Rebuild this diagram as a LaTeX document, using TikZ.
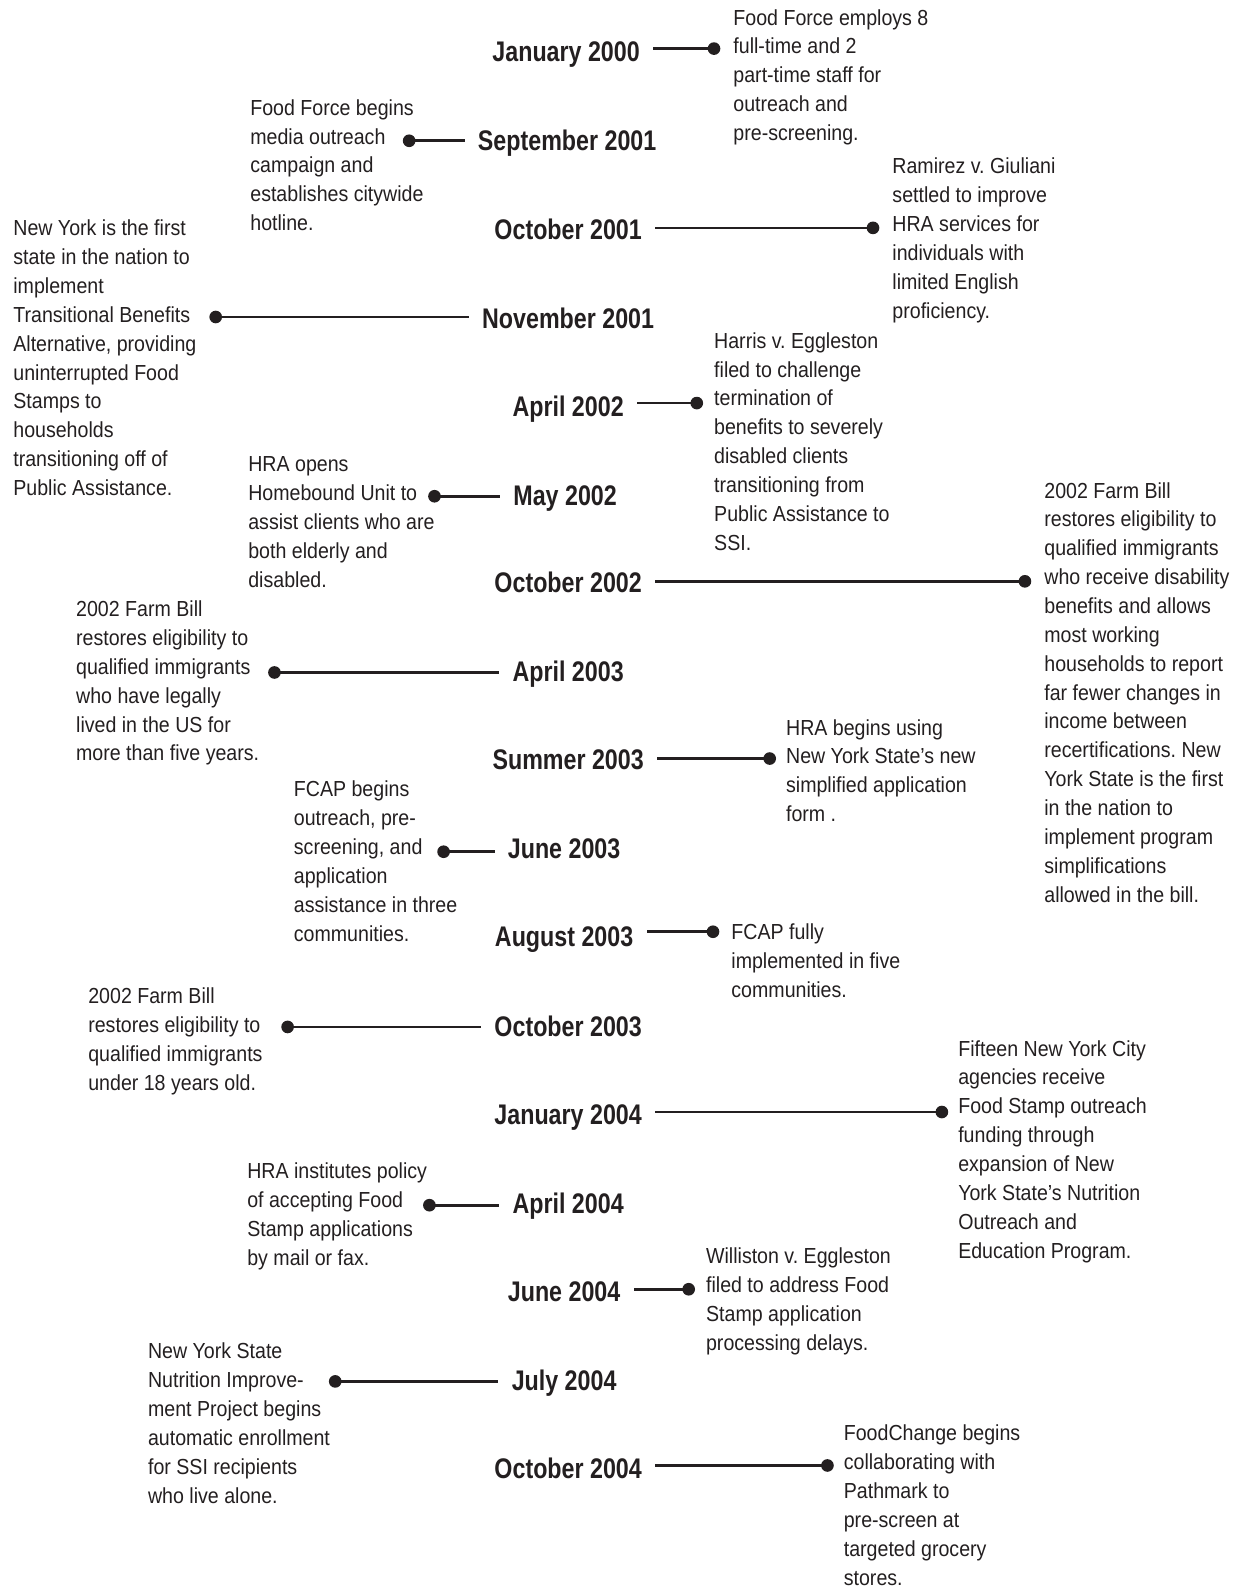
\documentclass[tikz,border=0pt]{standalone}
\usepackage{fontspec}
\setmainfont{Liberation Sans}[FakeStretch=0.9]
\newfontfamily\datefont{Liberation Sans}[FakeStretch=0.82]
\definecolor{ink}{HTML}{231F20}
\frenchspacing
\begin{document}
\begin{tikzpicture}[x=1pt,y=-1pt,
  datelbl/.style={font=\datefont\bfseries\fontsize{28}{32}\selectfont, anchor=base, inner sep=0pt, text=ink},
  evtxt/.style={font=\fontsize{21.5}{28.5}\selectfont, align=left, anchor=north west, inner sep=0pt, text=ink},
  evdot/.style={circle, fill=ink, minimum size=12.5pt, inner sep=0pt},
  conn/.style={draw=ink, line width=2.6pt, shorten >=13pt}]
\path[use as bounding box] (0,0) rectangle (1232,1568);

% dates
\node[datelbl] (d1) at (559,61) {January 2000};
\node[datelbl] (d2) at (560,149) {September 2001};
\node[datelbl] (d3) at (561,236) {October 2001};
\node[datelbl] (d4) at (561,324) {November 2001};
\node[datelbl] (d5) at (561,411) {April 2002};
\node[datelbl] (d6) at (558,499) {May 2002};
\node[datelbl] (d7) at (561,585) {October 2002};
\node[datelbl] (d8) at (561,673) {April 2003};
\node[datelbl] (d9) at (561,760) {Summer 2003};
\node[datelbl] (d10) at (557,848) {June 2003};
\node[datelbl] (d11) at (557,935) {August 2003};
\node[datelbl] (d12) at (561,1023) {October 2003};
\node[datelbl] (d13) at (561,1110) {January 2004};
\node[datelbl] (d14) at (561,1198) {April 2004};
\node[datelbl] (d15) at (557,1285) {June 2004};
\node[datelbl] (d16) at (557,1373) {July 2004};
\node[datelbl] (d17) at (561,1460) {October 2004};

% event texts
\node[evtxt] (e1) at (724,9) {Food Force employs 8\\full-time and 2\\part-time staff for\\outreach and\\pre-screening.};
\node[evtxt] (e2) at (247,98) {Food Force begins\\media outreach\\campaign and\\establishes citywide\\hotline.};
\node[evtxt] (e3) at (881,156) {Ramirez v. Giuliani\\settled to improve\\HRA services for\\individuals with\\limited English\\proficiency.};
\node[evtxt] (e4) at (13,217) {New York is the first\\state in the nation to\\implement\\Transitional Benefits\\Alternative, providing\\uninterrupted Food\\Stamps to\\households\\transitioning off of\\Public Assistance.};
\node[evtxt] (e5) at (705,328) {Harris v. Eggleston\\filed to challenge\\termination of\\benefits to severely\\disabled clients\\transitioning from\\Public Assistance to\\SSI.};
\node[evtxt] (e6) at (245,451) {HRA opens\\Homebound Unit to\\assist clients who are\\both elderly and\\disabled.};
\node[evtxt] (e7) at (1031,476) {2002 Farm Bill\\restores eligibility to\\qualified immigrants\\who receive disability\\benefits and allows\\most working\\households to report\\far fewer changes in\\income between\\recertifications. New\\York State is the first\\in the nation to\\implement program\\simplifications\\allowed in the bill.};
\node[evtxt] (e8) at (75,593) {2002 Farm Bill\\restores eligibility to\\qualified immigrants\\who have legally\\lived in the US for\\more than five years.};
\node[evtxt] (e9) at (776,710) {HRA begins using\\New York State’s new\\simplified application\\form .};
\node[evtxt] (e10) at (290,771) {FCAP begins\\outreach, pre-\\screening, and\\application\\assistance in three\\communities.};
\node[evtxt] (e11) at (722,912) {FCAP fully\\implemented in five\\communities.};
\node[evtxt] (e12) at (87,975) {2002 Farm Bill\\restores eligibility to\\qualified immigrants\\under 18 years old.};
\node[evtxt] (e13) at (946,1027) {Fifteen New York City\\agencies receive\\Food Stamp outreach\\funding through\\expansion of New\\York State's Nutrition\\Outreach and\\Education Program.};
\node[evtxt] (e14) at (244,1148) {HRA institutes policy\\of accepting Food\\Stamp applications\\by mail or fax.};
\node[evtxt] (e15) at (697,1232) {Williston v. Eggleston\\filed to address Food\\Stamp application\\processing delays.};
\node[evtxt] (e16) at (146,1326) {New York State\\Nutrition Improve-\\ment Project begins\\automatic enrollment\\for SSI recipients\\who live alone.};
\node[evtxt] (e17) at (833,1407) {FoodChange begins\\collaborating with\\Pathmark to\\pre-screen at\\targeted grocery\\stores.};

% dots
\node[evdot] (p1) at (705,48) {};
\node[evdot] (p2) at (404,139) {};
\node[evdot] (p3) at (862,225) {};
\node[evdot] (p4) at (213,313) {};
\node[evdot] (p5) at (688,398) {};
\node[evdot] (p6) at (429,490) {};
\node[evdot] (p7) at (1012,574) {};
\node[evdot] (p8) at (271,664) {};
\node[evdot] (p9) at (760,749) {};
\node[evdot] (p10) at (438,841) {};
\node[evdot] (p11) at (704,920) {};
\node[evdot] (p12) at (284,1014) {};
\node[evdot] (p13) at (930,1098) {};
\node[evdot] (p14) at (424,1190) {};
\node[evdot] (p15) at (680,1273) {};
\node[evdot] (p16) at (331,1364) {};
\node[evdot] (p17) at (817,1447) {};

% connectors
\draw[conn] (p1.center) -- (p1 -| d1.east);
\draw[conn] (p2.center) -- (p2 -| d2.west);
\draw[conn] (p3.center) -- (p3 -| d3.east);
\draw[conn] (p4.center) -- (p4 -| d4.west);
\draw[conn] (p5.center) -- (p5 -| d5.east);
\draw[conn] (p6.center) -- (p6 -| d6.west);
\draw[conn] (p7.center) -- (p7 -| d7.east);
\draw[conn] (p8.center) -- (p8 -| d8.west);
\draw[conn] (p9.center) -- (p9 -| d9.east);
\draw[conn] (p10.center) -- (p10 -| d10.west);
\draw[conn] (p11.center) -- (p11 -| d11.east);
\draw[conn] (p12.center) -- (p12 -| d12.west);
\draw[conn] (p13.center) -- (p13 -| d13.east);
\draw[conn] (p14.center) -- (p14 -| d14.west);
\draw[conn] (p15.center) -- (p15 -| d15.east);
\draw[conn] (p16.center) -- (p16 -| d16.west);
\draw[conn] (p17.center) -- (p17 -| d17.east);
\end{tikzpicture}
\end{document}
